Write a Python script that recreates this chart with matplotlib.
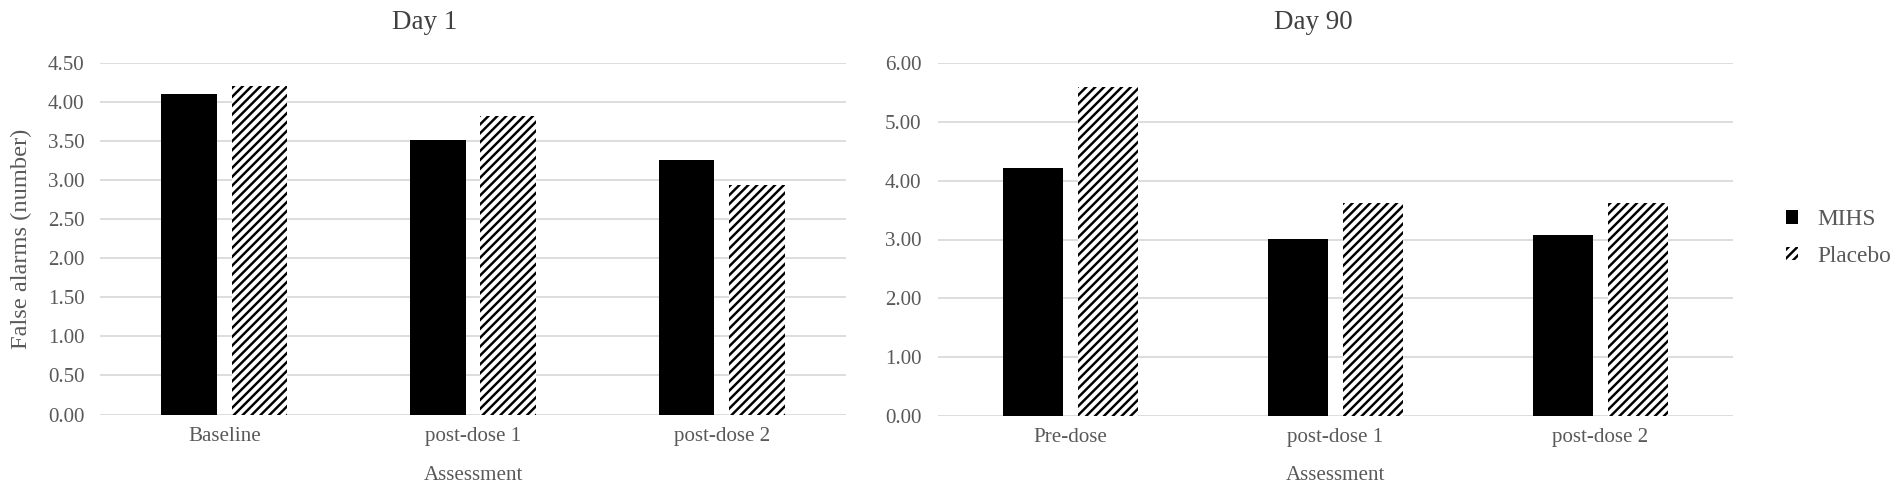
import matplotlib
matplotlib.use("Agg")
import matplotlib.pyplot as plt
import numpy as np
from matplotlib.ticker import FormatStrFormatter

plt.rcParams['font.family'] = ['Liberation Serif', 'DejaVu Serif']
plt.rcParams['hatch.linewidth'] = 2.2

series = ["MIHS", "Placebo"]
day1_categories = ["Baseline", "post-dose 1", "post-dose 2"]
day1_mihs = [4.10, 3.51, 3.25]
day1_placebo = [4.20, 3.81, 2.94]
day90_categories = ["Pre-dose", "post-dose 1", "post-dose 2"]
day90_mihs = [4.21, 3.01, 3.07]
day90_placebo = [5.60, 3.62, 3.62]
day1_yticks = [0, 0.5, 1.0, 1.5, 2.0, 2.5, 3.0, 3.5, 4.0, 4.5]
day90_yticks = [0, 1, 2, 3, 4, 5, 6]

W, H = 1902, 497
DPI = 80
fig = plt.figure(figsize=(W / DPI, H / DPI), dpi=DPI)

TXT = "#595959"
TITLE = "#404040"
GRID = "#d9d9d9"
TICK_FS = 18.9
BAR_W = 0.224
OFF = 0.142


def px_rect(x0, x1, ytop, ybot):
    return [x0 / W, (H - ybot) / H, (x1 - x0) / W, (ybot - ytop) / H]


def panel(rect, cats, mihs, placebo, yticks, ymax, pad):
    ax = fig.add_axes(rect)
    x = np.arange(len(cats))
    b1 = ax.bar(x - OFF, mihs, BAR_W, color="black", edgecolor="black",
                linewidth=0, label=series[0], zorder=3)
    b2 = ax.bar(x + OFF, placebo, BAR_W, color="white", edgecolor="black",
                hatch="///", linewidth=0, label=series[1], zorder=3)
    ax.set_xlim(-0.5, len(cats) - 0.5)
    ax.set_ylim(0, ymax)
    ax.set_yticks(yticks)
    ax.yaxis.set_major_formatter(FormatStrFormatter("%.2f"))
    ax.set_xticks(x)
    ax.set_xticklabels(cats)
    ax.grid(axis="y", color=GRID, linewidth=1.6, zorder=0)
    ax.set_axisbelow(True)
    for s in ax.spines.values():
        s.set_visible(False)
    ax.tick_params(axis="y", length=0, pad=pad, labelsize=TICK_FS, labelcolor=TXT)
    ax.tick_params(axis="x", length=0, pad=11, labelsize=TICK_FS, labelcolor=TXT)
    return ax, b1, b2


ax1, _, _ = panel(px_rect(100, 846, 62.5, 414.5), day1_categories, day1_mihs,
                  day1_placebo, day1_yticks, 4.5, 14)
ax2, h1, h2 = panel(px_rect(938, 1733, 63.3, 415.7), day90_categories, day90_mihs,
                    day90_placebo, day90_yticks, 6.0, 15)

# titles
fig.text(425 / W, (H - 29) / H, "Day 1", ha="center", va="baseline",
         fontsize=24.3, color=TITLE)
fig.text(1313 / W, (H - 29) / H, "Day 90", ha="center", va="baseline",
         fontsize=24.3, color=TITLE)

# axis labels
fig.text(473 / W, (H - 480) / H, "Assessment", ha="center", va="baseline",
         fontsize=TICK_FS, color=TXT)
fig.text(1335 / W, (H - 480) / H, "Assessment", ha="center", va="baseline",
         fontsize=TICK_FS, color=TXT)
fig.text(21 / W, (H - 239) / H, "False alarms (number)", ha="center", va="center",
         rotation=90, fontsize=22, color=TXT)

# legend
leg = fig.legend([h1, h2], series, loc="center left",
                 bbox_to_anchor=(1786 / W, (H - 238) / H),
                 frameon=False, borderpad=0, borderaxespad=0,
                 handlelength=0.5, handleheight=0.5, handletextpad=0.85,
                 labelspacing=0.65, fontsize=21)
for t in leg.get_texts():
    t.set_color(TXT)

fig.savefig("out.png", dpi=DPI, facecolor="white")
